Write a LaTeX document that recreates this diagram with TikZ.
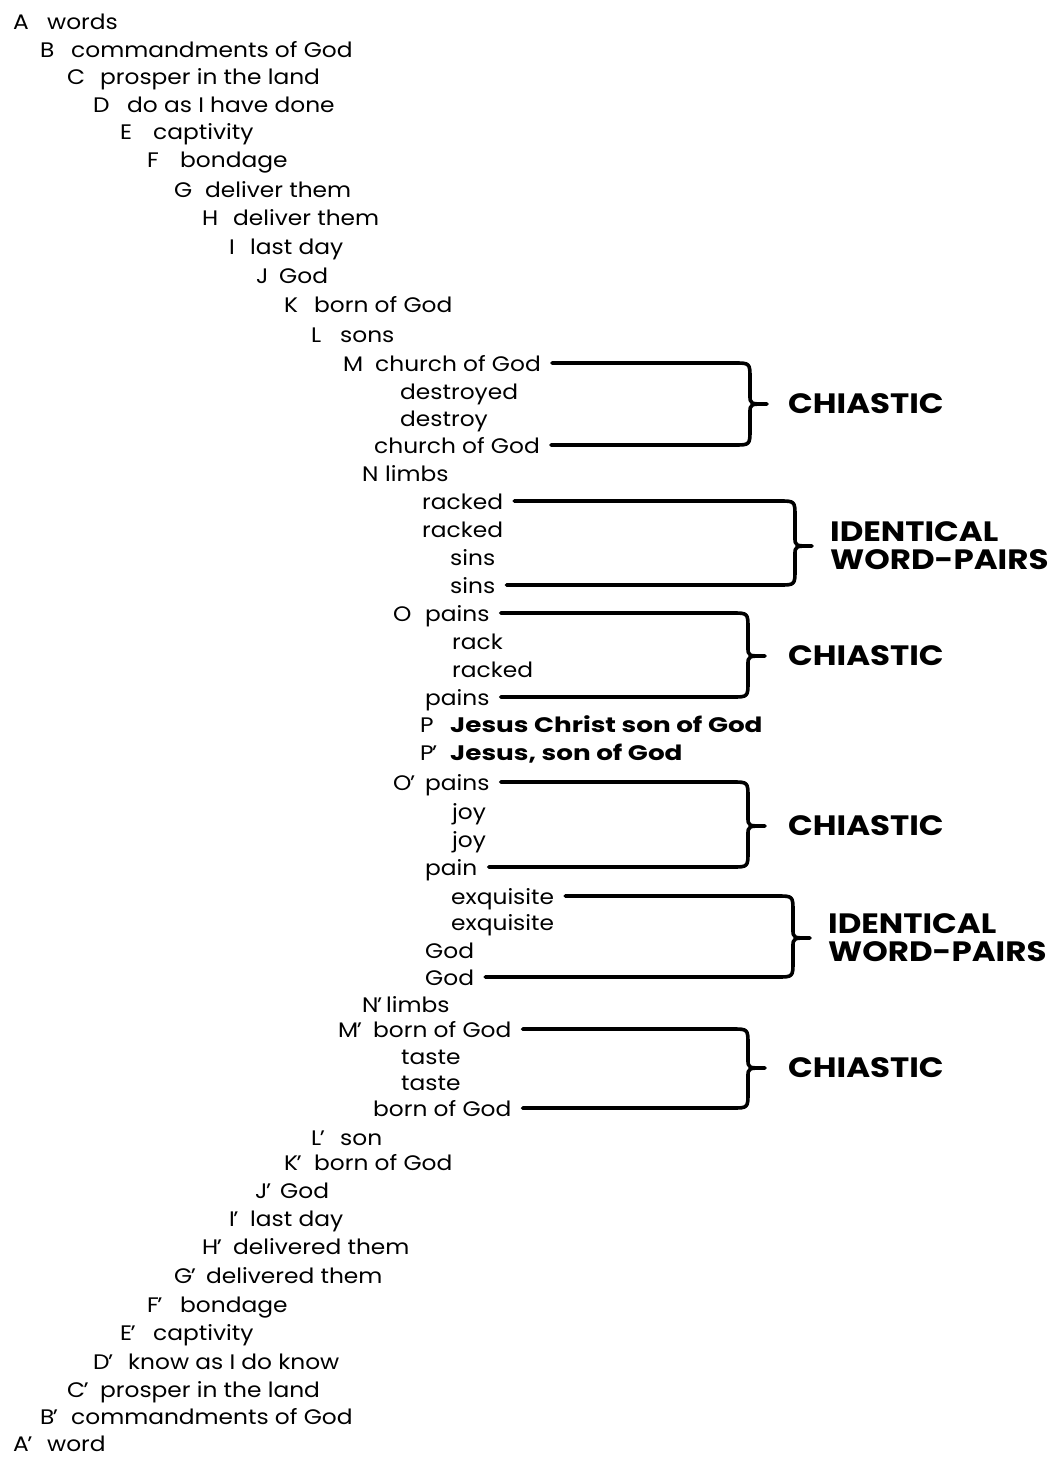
\documentclass[tikz,border=0pt]{standalone}
\usepackage{fontspec}
\setmainfont{Poppins}[FakeStretch=1.11]
\newfontfamily\boldfam{Poppins}[FakeStretch=1.25]
\newfontfamily\tagfam{Poppins}[FakeStretch=1.16]
\usetikzlibrary{calc}
\tikzset{
  lbl/.style={anchor=base west, inner sep=0pt, font=\fontsize{21}{24}\selectfont},
  txt/.style={anchor=base west, inner sep=0pt, text height=16pt, text depth=0pt, font=\fontsize{21}{24}\selectfont},
  btxt/.style={txt, font=\fontsize{21}{24}\boldfam\bfseries},
  tag/.style={anchor=west, inner sep=0pt, align=left, font=\fontsize{28}{28}\tagfam\bfseries},
  bracestyle/.style={line width=3.6pt, line cap=round, line join=round},
}
\newcommand\pr{\kern-1.5pt'}
\newcommand\chbrace[3]{%
  \draw[bracestyle]
    ([xshift=11pt]#1.east) -- ($(#3 |- #1.east)+(-16pt,0)$)
    .. controls (#3 |- #1.east) .. ($(#3 |- #1.east)+(0,-16pt)$)
    -- ($(#3)+(0,9pt)$) .. controls (#3) .. ($(#3)+(17pt,0)$)
    .. controls (#3) .. ($(#3)+(0,-9pt)$)
    -- ($(#3 |- #2.east)+(0,16pt)$) .. controls (#3 |- #2.east) .. ($(#3 |- #2.east)+(-16pt,0)$)
    -- ([xshift=11pt]#2.east);}
\newcommand\lrow[5]{\node[lbl] (l#1) at (#2,#4) {#5};}
\begin{document}
\begin{tikzpicture}[x=1pt,y=-1pt]
\useasboundingbox (0,0) rectangle (1049,1458);
% descending half
\lrow{A}{13}{}{30}{A}   \node[txt] (tA) at (47,30) {words};
\lrow{B}{40}{}{58}{B}   \node[txt] (tB) at (71,58) {commandments of God};
\lrow{C}{67}{}{85}{C}   \node[txt] (tC) at (100,85) {prosper in the land};
\lrow{D}{93}{}{113}{D}  \node[txt] (tD) at (127,113) {do as I have done};
\lrow{E}{120}{}{140}{E} \node[txt] (tE) at (153,140) {captivity};
\lrow{F}{147}{}{168}{F} \node[txt] (tF) at (180,168) {bondage};
\lrow{G}{174}{}{197}{G} \node[txt] (tG) at (205,197) {deliver them};
\lrow{H}{202}{}{225}{H} \node[txt] (tH) at (233,225) {deliver them};
\lrow{I}{229}{}{254}{I} \node[txt] (tI) at (250,254) {last day};
\lrow{J}{256}{}{283}{J} \node[txt] (tJ) at (279,283) {God};
\lrow{K}{284}{}{312}{K} \node[txt] (tK) at (314,312) {born of God};
\lrow{L}{311}{}{342}{L} \node[txt] (tL) at (340,342) {sons};
\lrow{M}{343}{}{371}{M} \node[txt] (tM) at (375,371) {church of God};
\node[txt] (m2) at (400,399) {destroyed};
\node[txt] (m3) at (400,426) {destroy};
\node[txt] (m4) at (374,453) {church of God};
\lrow{N}{362}{}{481}{N} \node[txt] (tN) at (385,481) {limbs};
\node[txt] (n1) at (422,509) {racked};
\node[txt] (n2) at (422,537) {racked};
\node[txt] (n3) at (450,565) {sins};
\node[txt] (n4) at (450,593) {sins};
\lrow{O}{393}{}{621}{O} \node[txt] (tO) at (425,621) {pains};
\node[txt] (o2) at (452,649) {rack};
\node[txt] (o3) at (452,677) {racked};
\node[txt] (o4) at (425,705) {pains};
\lrow{P}{420}{}{732}{P} \node[btxt] (tP) at (450,732) {Jesus Christ son of God};
\lrow{P2}{420}{}{760}{P\pr} \node[btxt] (tP2) at (450,760) {Jesus, son of God};
\lrow{O2}{393}{}{790}{O\pr} \node[txt] (tO2) at (425,790) {pains};
\node[txt] (q2) at (452,819) {joy};
\node[txt] (q3) at (452,847) {joy};
\node[txt] (q4) at (425,875) {pain};
\node[txt] (x1) at (451,904) {exquisite};
\node[txt] (x2) at (451,930) {exquisite};
\node[txt] (x3) at (425,958) {God};
\node[txt] (x4) at (425,985) {God};
\lrow{N2}{362}{}{1012}{N\pr} \node[txt] (tN2) at (386,1012) {limbs};
\lrow{M2}{338}{}{1037}{M\pr} \node[txt] (tM2) at (373,1037) {born of God};
\node[txt] (s2) at (401,1064) {taste};
\node[txt] (s3) at (401,1090) {taste};
\node[txt] (s4) at (373,1116) {born of God};
% ascending half
\lrow{L2}{311}{}{1145}{L\pr} \node[txt] (tL2) at (340,1145) {son};
\lrow{K2}{284}{}{1170}{K\pr} \node[txt] (tK2) at (314,1170) {born of God};
\lrow{J2}{255}{}{1198}{J\pr} \node[txt] (tJ2) at (280,1198) {God};
\lrow{I2}{229}{}{1226}{I\pr} \node[txt] (tI2) at (250,1226) {last day};
\lrow{H2}{202}{}{1254}{H\pr} \node[txt] (tH2) at (233,1254) {delivered them};
\lrow{G2}{174}{}{1283}{G\pr} \node[txt] (tG2) at (206,1283) {delivered them};
\lrow{F2}{147}{}{1312}{F\pr} \node[txt] (tF2) at (180,1312) {bondage};
\lrow{E2}{120}{}{1340}{E\pr} \node[txt] (tE2) at (153,1340) {captivity};
\lrow{D2}{93}{}{1369}{D\pr}  \node[txt] (tD2) at (128,1369) {know as I do know};
\lrow{C2}{67}{}{1397}{C\pr}  \node[txt] (tC2) at (100,1397) {prosper in the land};
\lrow{B2}{40}{}{1424}{B\pr}  \node[txt] (tB2) at (71,1424) {commandments of God};
\lrow{A2}{13}{}{1451}{A\pr}  \node[txt] (tA2) at (47,1451) {word};
% brace tips
\coordinate (c1) at (750,404);
\coordinate (c2) at (795,546);
\coordinate (c3) at (748,656);
\coordinate (c4) at (748,826);
\coordinate (c5) at (793,938);
\coordinate (c6) at (748,1068);
\chbrace{tM}{m4}{c1}
\chbrace{n1}{n4}{c2}
\chbrace{tO}{o4}{c3}
\chbrace{tO2}{q4}{c4}
\chbrace{x1}{x4}{c5}
\chbrace{tM2}{s4}{c6}
\node[tag] (k1) at (788,404) {CHIASTIC};
\node[tag] (k2) at (830,546) {IDENTICAL\\WORD-PAIRS};
\node[tag] (k3) at (788,656) {CHIASTIC};
\node[tag] (k4) at (788,826) {CHIASTIC};
\node[tag] (k5) at (828,938) {IDENTICAL\\WORD-PAIRS};
\node[tag] (k6) at (788,1068) {CHIASTIC};
\end{tikzpicture}
\end{document}
